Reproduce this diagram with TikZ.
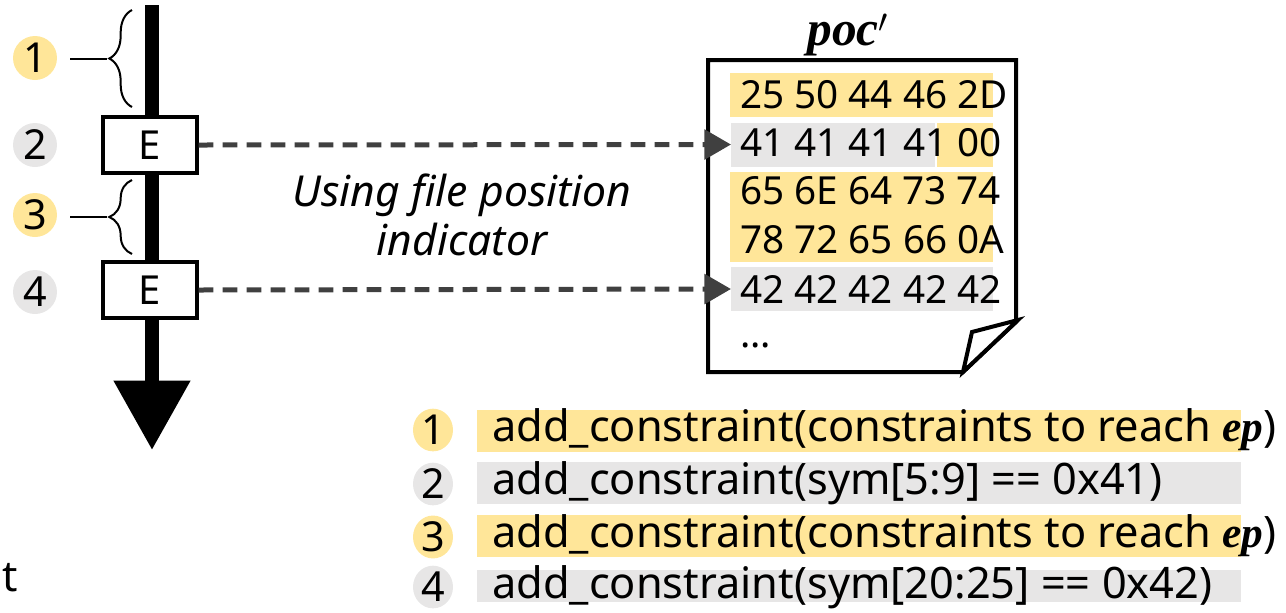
\documentclass[tikz,border=0pt]{standalone}
\usepackage{fontspec}
\setmainfont{Noto Sans}
\newfontfamily\symfont{Liberation Serif}
\usetikzlibrary{arrows.meta,decorations.pathreplacing,positioning,shapes.geometric}

\definecolor{hlyellow}{HTML}{FFE699}
\definecolor{hlgray}{HTML}{E7E6E6}
\definecolor{arrgray}{HTML}{404040}

\newcommand{\symvar}[1]{{\symfont\bfseries\itshape #1}}

\tikzset{
  numcirc/.style={circle, minimum size=33pt, inner sep=0pt, font=\fontsize{31}{33}\selectfont},
  numoval/.style={ellipse, minimum width=30pt, minimum height=32pt, inner sep=0pt, font=\fontsize{31}{33}\selectfont},
  ebox/.style={draw, line width=3pt, fill=white, minimum width=70pt, minimum height=42pt, inner sep=0pt, font=\fontsize{30}{33}\selectfont},
  hexrow/.style={anchor=west, inner sep=0pt, font=\fontsize{29}{33}\selectfont},
  cstrow/.style={anchor=west, inner sep=0pt, font=\fontsize{32.5}{36}\selectfont},
  hlbar/.style={anchor=west, inner sep=0pt, minimum height=33pt},
  bracepath/.style={decorate, decoration={brace, amplitude=17pt}, line width=1.5pt},
  fpi/.style={dashed, dash pattern=on 11pt off 7pt, line width=3.75pt, arrgray, -{Triangle[length=20pt,width=22pt]}},
}

\begin{document}
\begin{tikzpicture}[x=0.75pt,y=0.75pt,yscale=-1,xscale=1]
\useasboundingbox (0,0) rectangle (1286,612);

%Main flow
\draw[line width=10pt, -{Triangle[length=52pt,width=55pt]}] (152,5) -- (152,450);

%Braces
\draw[bracepath] (132,107) -- (132,10);
\draw[bracepath] (132,254) -- (132,180);
\coordinate (b1) at (107,59);
\coordinate (b3) at (107,217);
\draw[line width=1.5pt] (70,59) -- (b1);
\draw[line width=1.5pt] (70,217) -- (b3);

% Left labels
\node[numcirc, fill=hlyellow] (c1) at (35,58) {1};
\node[numcirc, fill=hlgray] (c2) at (35,145) {2};
\node[numcirc, fill=hlyellow] (c3) at (35,215) {3};
\node[numcirc, fill=hlgray] (c4) at (35,292) {4};

% E boxes
\node[ebox] (e2) at (150,145) {E};
\node[ebox] (e4) at (150,290) {E};

% Text Node
\node[font=\fontsize{32}{37}\selectfont\itshape, align=center, inner sep=0pt] (fpitxt) at (462,215) {Using file position\\indicator};

%Document
\node[font=\fontsize{37}{37}\selectfont, inner sep=0pt, anchor=base] (poc) at (848,45) {\symvar{poc}\symvar{$'$}};
\draw[line width=3pt, line join=miter] (708,60) -- (1016,60) -- (1016,322) -- (963,372) -- (708,372) -- cycle;
\draw[line width=3pt, line join=miter, fill=white] (1018,320) -- (972,332) -- (963,372) -- cycle;

%Highlights
\node[hlbar, fill=hlyellow, minimum width=197pt] (y1) at (730,95) {};
\node[hlbar, fill=hlgray, minimum width=153pt] (g2) at (731,144.5) {};
\node[hlbar, fill=hlyellow, minimum width=42pt] (y2) at (937,144.5) {};
\node[hlbar, fill=hlyellow, minimum width=197pt, minimum height=68pt] (y34) at (730,217) {};
\node[hlbar, fill=hlgray, minimum width=196pt] (g5) at (731,289) {};

% Hex rows
\node[hexrow] (h1) at (740,95) {25 50 44 46 2D};
\node[hexrow] (h2) at (740,143) {41 41 41 41 00};
\node[hexrow] (h3) at (740,191) {65 6E 64 73 74};
\node[hexrow] (h4) at (740,240) {78 72 65 66 0A};
\node[hexrow] (h5) at (740,289) {42 42 42 42 42};
\node[hexrow] (h6) at (740,345) {...};

%Arrows
\draw[fpi] (e2.east) -- (g2.west);
\draw[fpi] (e4.east) -- (g5.west);

%Constraints
\node[hlbar, fill=hlyellow, minimum width=573pt, minimum height=32pt] (k1) at (477,431) {};
\node[hlbar, fill=hlgray, minimum width=573pt, minimum height=31pt] (k2) at (477,483) {};
\node[hlbar, fill=hlyellow, minimum width=573pt, minimum height=32pt] (k3) at (477,536) {};
\node[hlbar, fill=hlgray, minimum width=573pt, minimum height=24pt] (k4) at (477,586) {};

\node[numoval, fill=hlyellow] (n1) at (433,430) {1};
\node[numoval, fill=hlgray] (n2) at (433,484) {2};
\node[numoval, fill=hlyellow] (n3) at (433,537) {3};
\node[numoval, fill=hlgray] (n4) at (433,587) {4};

\node[cstrow] (t1) at (492,430) {add\_constraint(constraints to reach \symvar{ep})};
\node[cstrow] (t2) at (492,483) {add\_constraint(sym[5:9] == 0x41)};
\node[cstrow] (t3) at (492,536) {add\_constraint(constraints to reach \symvar{ep})};
\node[cstrow] (t4) at (492,587) {add\_constraint(sym[20:25] == 0x42)};

% Text Node
\node[font=\fontsize{32}{36}\selectfont] (cut) at (10,578) {t};

\end{tikzpicture}
\end{document}
